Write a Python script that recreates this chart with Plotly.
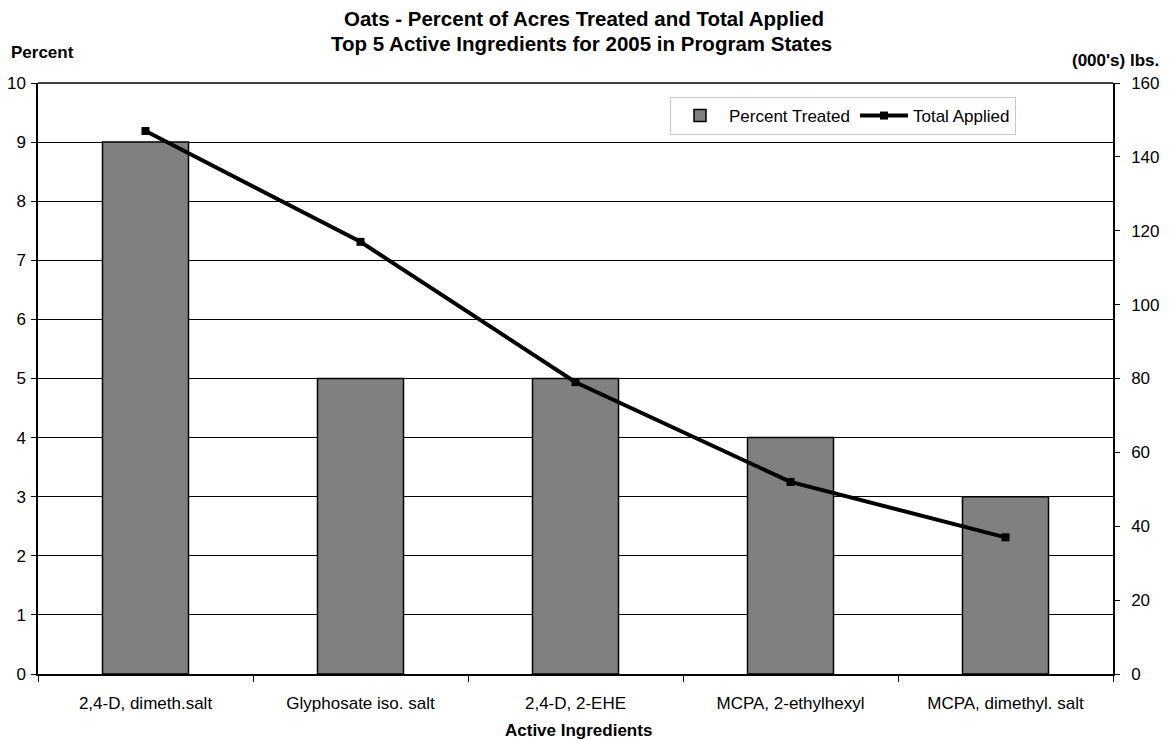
import plotly.graph_objects as go

categories = ["2,4-D, dimeth.salt", "Glyphosate iso. salt", "2,4-D, 2-EHE",
              "MCPA, 2-ethylhexyl", "MCPA, dimethyl. salt"]
percent_treated = [9, 5, 5, 4, 3]
total_applied = [147, 117, 79, 52, 37]

FONT = "Liberation Sans, Arial, sans-serif"
# page body has an 8px margin; the figure is shifted by it
OFF = 8
SW, SH = 1169, 740                 # screen size
W, H = SW - OFF, SH - OFF          # figure size
X0, X1, Y0, Y1 = 38, 1113, 83, 674  # plot area on screen
L, T = X0 - OFF, Y0 - OFF
R, B = SW - X1, SH - Y1
PW, PH = X1 - X0, Y1 - Y0


def px_x(x):
    return (x - X0) / PW


def px_y(y):
    return (Y1 - y) / PH


fig = go.Figure()
fig.add_trace(go.Bar(
    x=categories, y=percent_treated, name="Percent Treated",
    marker=dict(color="#808080", line=dict(color="#000000", width=1.5)),
    width=0.4, yaxis="y",
))
fig.add_trace(go.Scatter(
    x=categories, y=total_applied, name="Total Applied", mode="lines+markers",
    line=dict(color="#000000", width=4),
    marker=dict(symbol="square", size=8, color="#000000"),
    yaxis="y2",
))

fig.update_layout(
    width=W, height=H,
    margin=dict(l=L, r=R, t=T, b=B, autoexpand=False),
    paper_bgcolor="white", plot_bgcolor="white",
    font=dict(family=FONT, size=17, color="#000000"),
    showlegend=True,
    legend=dict(
        orientation="h", x=px_x(670), y=px_y(97), xanchor="left", yanchor="top",
        bordercolor="#c8c8c8", borderwidth=1, bgcolor="white",
        font=dict(family=FONT, size=17, color="#000000"),
        traceorder="normal", itemwidth=48, tracegroupgap=0,
    ),
    bargap=0.6,
    xaxis=dict(
        type="category", tickson="boundaries", ticks="outside", ticklen=6,
        tickcolor="#000000", showline=True, linecolor="#000000", linewidth=1.5,
        showgrid=False, tickfont=dict(size=17, family=FONT), automargin=False,
        ticklabelstandoff=13,
    ),
    yaxis=dict(
        range=[0, 10], dtick=1, ticks="outside", ticklen=5, tickcolor="#000000",
        showline=True, linecolor="#000000", linewidth=1.5,
        showgrid=True, gridcolor="#000000", gridwidth=1, automargin=False,
        tickfont=dict(size=17, family=FONT), zeroline=False, ticklabelstandoff=2,
    ),
    yaxis2=dict(
        range=[0, 160], dtick=20, overlaying="y", side="right",
        ticks="outside", ticklen=5, tickcolor="#000000",
        showline=True, linecolor="#000000", linewidth=1.5, automargin=False,
        showgrid=False, zeroline=False, tickfont=dict(size=17, family=FONT),
        ticklabelstandoff=8,
    ),
    annotations=[
        dict(text="<b>Oats - Percent of Acres Treated and Total Applied</b>",
             xref="paper", yref="paper", x=px_x(584), y=px_y(18),
             xanchor="center", yanchor="middle", showarrow=False,
             font=dict(size=20.5, family=FONT)),
        dict(text="<b>Top 5 Active Ingredients for 2005 in Program States</b>",
             xref="paper", yref="paper", x=px_x(581), y=px_y(44),
             xanchor="center", yanchor="middle", showarrow=False,
             font=dict(size=20.5, family=FONT)),
        dict(text="<b>Percent</b>", xref="paper", yref="paper", x=px_x(9), y=px_y(52),
             xanchor="left", yanchor="middle", showarrow=False,
             font=dict(size=17, family=FONT)),
        dict(text="<b>(000's) lbs.</b>", xref="paper", yref="paper", x=px_x(1161), y=px_y(60),
             xanchor="right", yanchor="middle", showarrow=False,
             font=dict(size=17, family=FONT)),
        dict(text="<b>Active Ingredients</b>", xref="paper", yref="paper",
             x=px_x(578), y=px_y(730), xanchor="center", yanchor="middle",
             showarrow=False, font=dict(size=17, family=FONT)),
    ],
)
# top border of plot area
fig.add_shape(type="line", xref="paper", yref="paper", x0=0, x1=1, y0=1, y1=1,
              line=dict(color="#000000", width=1.5))

fig.write_html("out.html")
